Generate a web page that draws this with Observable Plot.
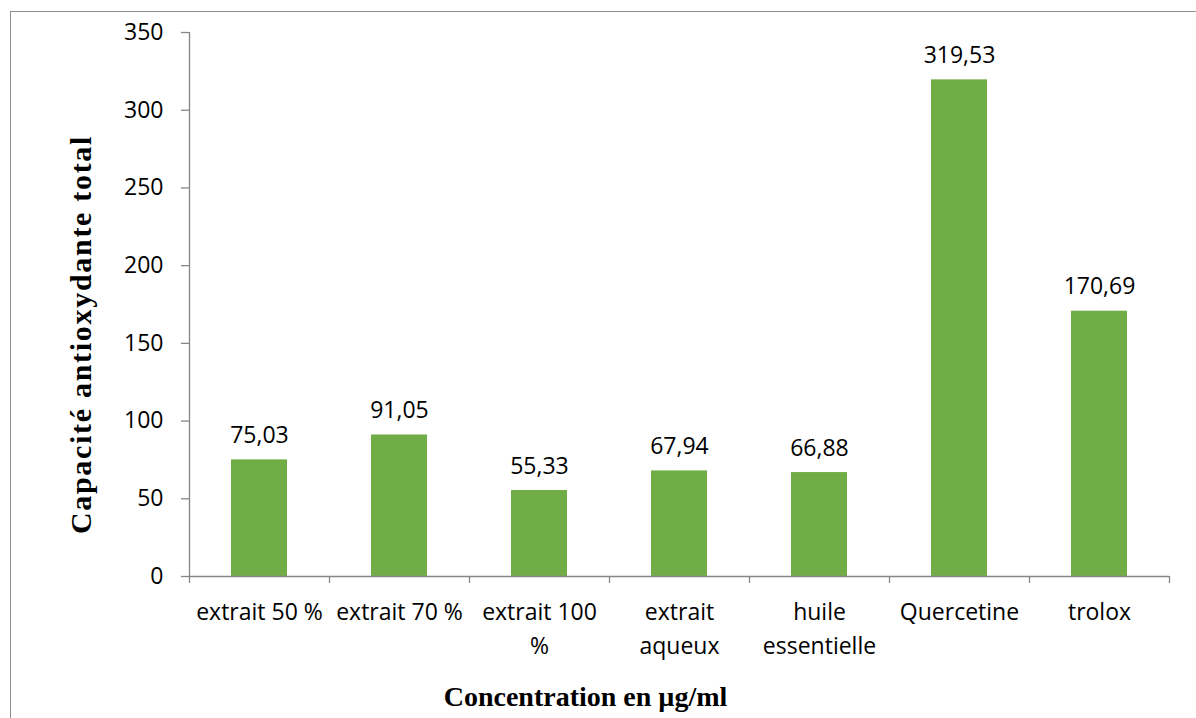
<!DOCTYPE html>
<html>
<head>
<meta charset="utf-8">
<script src="https://cdn.jsdelivr.net/npm/d3@7"></script>
<script src="https://cdn.jsdelivr.net/npm/@observablehq/plot@0.6"></script>
<style>
  html, body { margin: 0; padding: 0; background: #fff; overflow: hidden; }
  #wrap { position: relative; width: 1196px; height: 718px; }
  #frame { position: absolute; left: 10px; top: 11px; width: 1400px; height: 900px;
           border: 1.5px solid #8e8e8e; box-sizing: border-box; }
  #chart { position: absolute; left: 0; top: 0; }
  text.y-title, .y-title text, text[aria-label="y-title"], g[aria-label="y-title"] text { letter-spacing: 1.7px; }
</style>
</head>
<body>
<div id="wrap">
  <div id="frame"></div>
  <div id="chart"></div>
</div>
<script>
// Total antioxidant capacity per sample
const categories = ["extrait 50 %", "extrait 70 %", "extrait 100\n%", "extrait\naqueux", "huile\nessentielle", "Quercetine", "trolox"];
const values = [75.03, 91.05, 55.33, 67.94, 66.88, 319.53, 170.69];
const yTicks = [0, 50, 100, 150, 200, 250, 300, 350];
const yTitle = "Capacité antioxydante total";
const xTitle = "Concentration en µg/ml";

const data = categories.map((c, i) => ({i, category: c, value: values[i]}));
const fmt = v => v.toFixed(2).replace(".", ",");
const axisColor = "#868686";
const barColor = "#70AD47";
const sans = "Open Sans, Noto Sans, sans-serif";
const serif = "Liberation Serif, Times New Roman, serif";

const chart = Plot.plot({
  width: 1196,
  height: 718,
  marginLeft: 189,
  marginRight: 27,
  marginTop: 32,
  marginBottom: 142,
  style: {fontFamily: sans, fontSize: "23px", color: "#000", background: "transparent", overflow: "visible"},
  x: {type: "linear", domain: [0, categories.length]},
  y: {domain: [0, 350]},
  marks: [
    // bars occupy the middle 40% of each category slot
    Plot.rectY(data, {x1: d => d.i + 0.3, x2: d => d.i + 0.7, y: "value", fill: barColor}),
    // axis lines
    Plot.ruleX([0], {stroke: axisColor, strokeWidth: 1.3}),
    Plot.ruleY([0], {stroke: axisColor, strokeWidth: 1.3}),
    // y axis ticks and labels
    Plot.axisY({ticks: yTicks, tickSize: 8, tickPadding: 18, stroke: axisColor, strokeOpacity: 1,
                strokeWidth: 1.3, fontSize: 23, fontFamily: sans, fill: "#000", label: null}),
    // category boundary ticks
    Plot.axisX({ticks: d3.range(categories.length + 1), tickSize: 7, stroke: axisColor, strokeOpacity: 1,
                strokeWidth: 1.3, tickFormat: () => "", label: null}),
    // category labels centred in each slot
    Plot.axisX({ticks: data.map(d => d.i + 0.5), tickSize: 0, tickPadding: 20,
                tickFormat: (t) => categories[Math.floor(t)], fontSize: 23, fontFamily: sans,
                fill: "#000", lineHeight: 1.45, label: null}),
    // value labels
    Plot.text(data, {x: d => d.i + 0.5, y: "value", text: d => fmt(d.value), lineAnchor: "bottom",
                     dy: -17, fontSize: 23, fontFamily: sans, fill: "#000"}),
    // axis titles
    Plot.text([yTitle], {frameAnchor: "left", textAnchor: "middle", lineAnchor: "middle", rotate: -90,
                         dx: -108, dy: 30, fontSize: 30, fontWeight: "bold", fontFamily: serif, fill: "#000",
                         className: "y-title"}),
    Plot.text([xTitle], {frameAnchor: "bottom", textAnchor: "middle", lineAnchor: "bottom", dx: -94, dy: 129,
                         fontSize: 28, fontWeight: "bold", fontFamily: serif, fill: "#000"})
  ]
});
// widen the spacing of the rotated y title
d3.select(chart).selectAll("text")
  .filter(function() { return this.textContent === yTitle; })
  .style("letter-spacing", "1.7px");
document.getElementById("chart").appendChild(chart);
</script>
</body>
</html>
